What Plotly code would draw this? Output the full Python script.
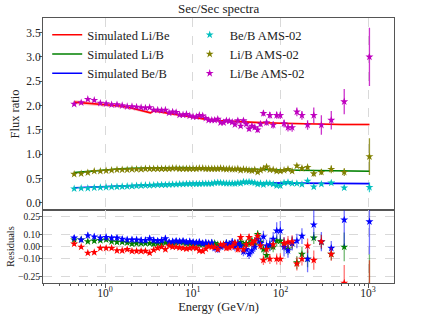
import plotly.graph_objects as go

# ---------------- data ----------------
energy = [0.445, 0.535, 0.637, 0.754, 0.885, 1.03, 1.19, 1.37, 1.57, 1.79, 2.03, 2.29, 2.58, 2.89, 3.23, 3.59,
          3.99, 4.42, 4.88, 5.38, 5.90, 6.47, 7.09, 7.76, 8.48, 9.25, 10.1, 11.0, 11.9, 13.0, 14.1, 15.2,
          16.5, 17.8, 19.3, 20.8, 22.5, 24.2, 26.1, 28.2, 30.3, 32.7, 35.2, 37.9, 40.8, 43.9, 47.3, 51.0,
          55.0, 59.3, 64.0, 69.5, 75.8, 82.7, 90.7, 99.7, 110, 122, 136, 154, 176, 204, 240, 293, 380, 534, 1035]

li_be = [2.03, 2.06, 2.13, 2.11, 2.05, 2.04, 2.02, 2.02, 2.00, 1.98, 1.98, 1.97, 1.96, 1.95, 1.96, 1.91, 1.91, 1.90,
         1.91, 1.85, 1.87, 1.86,
         1.81, 1.81, 1.82, 1.79, 1.77, 1.77, 1.80, 1.79, 1.74, 1.70, 1.70, 1.70, 1.72, 1.65, 1.65, 1.69, 1.68, 1.66,
         1.61, 1.69, 1.58, 1.69, 1.62,
         1.52, 1.58, 1.55, 1.50, 1.62, 1.84, 1.65, 1.80, 1.60, 1.80, 1.80, 1.63, 1.55, 1.55, 1.87, 1.80, 1.60, 1.80,
         1.60, 1.70, 2.08, 3.00]
li_be_err = [0.02, 0.02, 0.02, 0.02, 0.02, 0.02, 0.02, 0.02, 0.02, 0.02,
             0.02, 0.02, 0.02, 0.02, 0.02, 0.02, 0.02, 0.02, 0.02, 0.02,
             0.02, 0.02, 0.02, 0.02, 0.025, 0.025, 0.025, 0.025, 0.025, 0.025,
             0.03, 0.03, 0.03, 0.03, 0.03, 0.03, 0.035, 0.035, 0.035, 0.035,
             0.04, 0.04, 0.04, 0.045, 0.045, 0.05, 0.05, 0.05, 0.055, 0.055,
             0.06, 0.06, 0.065, 0.07, 0.07, 0.075, 0.08, 0.085, 0.09, 0.09,
             0.09, 0.10, 0.16, 0.20, 0.19, 0.26, 0.60]

li_b = [0.59, 0.60, 0.62, 0.65, 0.65, 0.66, 0.67, 0.68, 0.68, 0.68, 0.69, 0.69, 0.69, 0.70, 0.70, 0.70, 0.70, 0.70,
        0.70, 0.70, 0.71, 0.71,
        0.70, 0.70, 0.70, 0.70, 0.70, 0.70, 0.71, 0.71, 0.70, 0.70, 0.70, 0.70, 0.70, 0.71, 0.70, 0.69, 0.70, 0.69,
        0.69, 0.70, 0.67, 0.69, 0.68,
        0.67, 0.66, 0.68, 0.63, 0.67, 0.70, 0.74, 0.68, 0.68, 0.65, 0.65, 0.67, 0.69, 0.65, 0.76, 0.71, 0.73, 0.60,
        0.63, 0.69, 0.63, 0.95]
li_b_err = [0.01, 0.01, 0.01, 0.01, 0.01, 0.01, 0.01, 0.01, 0.01, 0.01,
            0.01, 0.01, 0.01, 0.01, 0.01, 0.01, 0.01, 0.01, 0.01, 0.01,
            0.01, 0.01, 0.01, 0.01, 0.01, 0.01, 0.01, 0.012, 0.012, 0.012,
            0.012, 0.012, 0.012, 0.013, 0.013, 0.013, 0.014, 0.014, 0.015, 0.015,
            0.015, 0.016, 0.016, 0.017, 0.017, 0.018, 0.018, 0.019, 0.02, 0.02,
            0.021, 0.022, 0.023, 0.024, 0.025, 0.026, 0.027, 0.028, 0.03, 0.032,
            0.04, 0.05, 0.06, 0.06, 0.08, 0.08, 0.38]

be_b = [0.29, 0.30, 0.30, 0.31, 0.315, 0.32, 0.325, 0.33, 0.335, 0.34, 0.345, 0.35, 0.355, 0.36, 0.36, 0.365, 0.37,
        0.37, 0.37, 0.375, 0.38, 0.38,
        0.385, 0.385, 0.39, 0.39, 0.39, 0.39, 0.39, 0.395, 0.395, 0.395, 0.395, 0.41, 0.415, 0.41, 0.405, 0.40, 0.40,
        0.40, 0.395, 0.41, 0.40, 0.43, 0.42,
        0.43, 0.42, 0.41, 0.385, 0.40, 0.375, 0.405, 0.40, 0.385, 0.355, 0.355, 0.41, 0.42, 0.40, 0.40, 0.38, 0.45,
        0.33, 0.385, 0.41, 0.31, 0.32]
be_b_err = [0.005, 0.005, 0.005, 0.005, 0.005, 0.005, 0.005, 0.005, 0.005, 0.005,
            0.005, 0.005, 0.005, 0.005, 0.005, 0.005, 0.005, 0.005, 0.005, 0.005,
            0.006, 0.006, 0.006, 0.006, 0.006, 0.006, 0.006, 0.007, 0.007, 0.007,
            0.007, 0.007, 0.007, 0.008, 0.008, 0.008, 0.008, 0.009, 0.009, 0.009,
            0.01, 0.01, 0.01, 0.01, 0.011, 0.011, 0.011, 0.012, 0.012, 0.012,
            0.013, 0.013, 0.014, 0.014, 0.015, 0.015, 0.016, 0.016, 0.017, 0.018,
            0.02, 0.025, 0.03, 0.03, 0.035, 0.04, 0.10]

# residuals
res_li_be = [0.025, 0.00, -0.05, -0.045, -0.01, -0.01, -0.01, -0.03, -0.03, -0.02, -0.035, -0.035, -0.035, -0.035,
             -0.05, -0.025, -0.01, 0.00, -0.02, 0.01, 0.00, 0.00,
             -0.005, -0.01, -0.015, -0.01, -0.005, -0.01, -0.03, -0.035, -0.015, 0.005, 0.0, 0.0, -0.02, 0.02, 0.02,
             -0.01, -0.005, 0.005, 0.035, -0.02, 0.08, -0.02, 0.02,
             0.08, 0.03, 0.05, 0.09, 0.01, -0.11, -0.02, -0.10, 0.02, -0.10, -0.10, 0.03, 0.04, 0.045, -0.14, -0.10,
             0.01, -0.11, 0.045, -0.06, -0.30, -0.46]
res_li_be_err = [0.015, 0.015, 0.015, 0.015, 0.015, 0.015, 0.015, 0.015, 0.015, 0.015,
                 0.015, 0.015, 0.015, 0.015, 0.015, 0.015, 0.015, 0.015, 0.015, 0.015,
                 0.015, 0.015, 0.015, 0.015, 0.015, 0.015, 0.016, 0.016, 0.017, 0.017,
                 0.018, 0.018, 0.019, 0.019, 0.02, 0.02, 0.021, 0.022, 0.023, 0.024,
                 0.025, 0.026, 0.027, 0.028, 0.029, 0.03, 0.031, 0.032, 0.034, 0.036,
                 0.04, 0.04, 0.042, 0.044, 0.046, 0.048, 0.05, 0.05, 0.052, 0.055,
                 0.055, 0.06, 0.08, 0.055, 0.055, 0.15, 0.35]

res_li_b = [0.06, 0.06, 0.045, 0.05, 0.055, 0.06, 0.045, 0.04, 0.04, 0.035, 0.025, 0.03, 0.03, 0.03, 0.03, 0.025,
            0.03, 0.03, 0.035, 0.03, 0.03, 0.035,
            0.04, 0.035, 0.03, 0.03, 0.025, 0.03, 0.02, 0.02, 0.025, 0.02, 0.03, 0.03, 0.02, 0.01, 0.02, 0.03, 0.02,
            0.025, 0.03, 0.02, 0.04, 0.02, 0.03,
            0.03, 0.05, 0.02, 0.105, 0.04, -0.02, -0.07, 0.01, 0.0, 0.05, 0.05, 0.02, -0.015, 0.03, -0.13, -0.06,
            -0.10, 0.075, 0.04, -0.06, 0.0, -0.46]
res_li_b_err = [0.015, 0.015, 0.015, 0.015, 0.015, 0.015, 0.015, 0.015, 0.015, 0.015,
                0.015, 0.015, 0.015, 0.015, 0.015, 0.015, 0.015, 0.015, 0.015, 0.015,
                0.015, 0.015, 0.015, 0.015, 0.015, 0.015, 0.016, 0.016, 0.017, 0.017,
                0.018, 0.018, 0.019, 0.019, 0.02, 0.02, 0.021, 0.022, 0.023, 0.024,
                0.025, 0.026, 0.027, 0.028, 0.029, 0.03, 0.031, 0.032, 0.034, 0.036,
                0.04, 0.04, 0.042, 0.044, 0.046, 0.048, 0.05, 0.05, 0.052, 0.055,
                0.06, 0.07, 0.05, 0.06, 0.05, 0.12, 0.40]

res_be_b = [0.075, 0.06, 0.095, 0.085, 0.075, 0.08, 0.075, 0.075, 0.065, 0.06, 0.06, 0.06, 0.055, 0.055, 0.07,
            0.055, 0.05, 0.055, 0.07, 0.04, 0.045, 0.05,
            0.045, 0.05, 0.04, 0.045, 0.04, 0.035, 0.04, 0.03, 0.035, 0.03, 0.035, -0.01, -0.02, 0.0, 0.01, 0.03,
            0.02, 0.04, 0.0, 0.03, 0.01, -0.04, -0.02,
            -0.06, -0.03, 0.0, 0.065, 0.03, 0.085, 0.01, 0.02, 0.065, 0.135, 0.135, 0.0, -0.03, 0.03, 0.05, 0.09,
            -0.10, 0.185, 0.045, -0.01, 0.225, 0.21]
res_be_b_err = [0.025, 0.025, 0.025, 0.025, 0.025, 0.025, 0.025, 0.025, 0.025, 0.025,
                0.025, 0.025, 0.025, 0.025, 0.025, 0.025, 0.025, 0.025, 0.025, 0.025,
                0.025, 0.025, 0.025, 0.025, 0.025, 0.025, 0.026, 0.026, 0.027, 0.027,
                0.028, 0.028, 0.029, 0.029, 0.03, 0.03, 0.031, 0.032, 0.033, 0.034,
                0.035, 0.036, 0.037, 0.038, 0.039, 0.04, 0.041, 0.042, 0.044, 0.046,
                0.05, 0.05, 0.055, 0.06, 0.07, 0.08, 0.08, 0.06, 0.06, 0.06,
                0.065, 0.11, 0.125, 0.08, 0.06, 0.22, 0.27]

# simulated model curves
model_energy = [0.445, 0.6, 0.8, 1.0, 1.5, 2.0, 2.5, 3.0, 3.3, 3.6, 5.0, 7.0, 10, 15, 20, 30, 50, 100, 200, 500, 1035]
model_li_be = [2.07, 2.05, 2.03, 2.02, 1.99, 1.95, 1.91, 1.87, 1.85, 1.89, 1.85, 1.80, 1.76, 1.71, 1.69, 1.67,
               1.655, 1.635, 1.62, 1.61, 1.61]
model_li_be_unc = [0.045, 0.045, 0.04, 0.04, 0.035, 0.035, 0.03, 0.03, 0.03, 0.03, 0.03, 0.025, 0.025, 0.025,
                   0.02, 0.02, 0.02, 0.02, 0.02, 0.02, 0.02]
model_li_b = [0.62, 0.64, 0.665, 0.68, 0.70, 0.71, 0.715, 0.72, 0.72, 0.72, 0.725, 0.725, 0.72, 0.715, 0.71, 0.70,
              0.69, 0.675, 0.665, 0.655, 0.65]
model_li_b_unc = [0.012] * 21
model_be_b = [0.31, 0.32, 0.33, 0.335, 0.35, 0.36, 0.365, 0.37, 0.372, 0.375, 0.38, 0.39, 0.40, 0.405, 0.41, 0.41,
              0.41, 0.405, 0.40, 0.40, 0.395]
model_be_b_unc = [0.008] * 21

x_ticks = [1, 10, 100, 1000]
x_tick_text = ["10<sup>0</sup>", "10<sup>1</sup>", "10<sup>2</sup>", "10<sup>3</sup>"]
y_ticks = [0.0, 0.5, 1.0, 1.5, 2.0, 2.5, 3.0, 3.5]
y_tick_text = ["0.0", "0.5", "1.0", "1.5", "2.0", "2.5", "3.0", "3.5"]
res_ticks = [-0.25, -0.10, 0.0, 0.10, 0.25]
res_tick_text = ["\u22120.25", "\u22120.10", "0.00", "0.10", "0.25"]

# ---------------- figure ----------------
FONT = "Liberation Serif"
fig = go.Figure()


def band(x, y, unc, color, axes):
    up = [a + b for a, b in zip(y, unc)]
    lo = [a - b for a, b in zip(y, unc)]
    fig.add_trace(go.Scatter(x=x, y=up, mode="lines", line=dict(width=0), showlegend=False,
                             hoverinfo="skip", xaxis=axes[0], yaxis=axes[1]))
    fig.add_trace(go.Scatter(x=x, y=lo, mode="lines", line=dict(width=0), fill="tonexty",
                             fillcolor=color, showlegend=False, hoverinfo="skip",
                             xaxis=axes[0], yaxis=axes[1]))


band(model_energy, model_li_be, model_li_be_unc, "rgba(255,0,0,0.22)", ("x", "y"))
band(model_energy, model_li_b, model_li_b_unc, "rgba(0,128,0,0.25)", ("x", "y"))
band(model_energy, model_be_b, model_be_b_unc, "rgba(0,0,255,0.25)", ("x", "y"))

for name, yv, col in [("Simulated Li/Be", model_li_be, "#ff0000"),
                      ("Simulated Li/B", model_li_b, "#008000"),
                      ("Simulated Be/B", model_be_b, "#0000ff")]:
    fig.add_trace(go.Scatter(x=model_energy, y=yv, mode="lines", name=name,
                             line=dict(color=col, width=1.6), legend="legend",
                             xaxis="x", yaxis="y"))

for name, yv, ev, col, ecol in [("Be/B AMS-02", be_b, be_b_err, "#00bfbf", "rgba(0,191,191,0.8)"),
                                ("Li/B AMS-02", li_b, li_b_err, "#808000", "rgba(128,128,0,0.8)"),
                                ("Li/Be AMS-02", li_be, li_be_err, "#bf00bf", "rgba(191,0,191,0.8)")]:
    fig.add_trace(go.Scatter(x=energy, y=yv, mode="markers", name=name,
                             marker=dict(symbol="star", size=6, color=col, line=dict(width=0)),
                             error_y=dict(type="data", array=ev, color=ecol, thickness=1.3, width=0),
                             legend="legend2", xaxis="x", yaxis="y"))

for yv, ev, col, ecol in [(res_li_b, res_li_b_err, "#008000", "rgba(0,128,0,0.55)"),
                          (res_be_b, res_be_b_err, "#0000ff", "rgba(0,0,255,0.55)"),
                          (res_li_be, res_li_be_err, "#ff0000", "rgba(255,0,0,0.55)")]:
    fig.add_trace(go.Scatter(x=energy, y=yv, mode="markers", showlegend=False,
                             marker=dict(symbol="star", size=6, color=col, line=dict(width=0)),
                             error_y=dict(type="data", array=ev, color=ecol, thickness=1.3, width=0),
                             xaxis="x2", yaxis="y2", cliponaxis=True))

minor_vals = [m * 10 ** d for d in range(-1, 4) for m in range(2, 10)]
xr = [-0.707, 3.295]
axis_common = dict(showline=True, linecolor="#555", linewidth=1, mirror=True, zeroline=False, automargin=False)
grid_style = dict(gridcolor="#d9d9d9", griddash="dash", gridwidth=1)

fig.update_layout(
    width=438, height=314,
    margin=dict(l=43, r=44, t=18, b=31, autoexpand=False),
    paper_bgcolor="white", plot_bgcolor="white",
    font=dict(family=FONT, size=11.5, color="#222"),
    annotations=[dict(text="Sec/Sec spectra", x=0.5, xref="paper", y=1.0, yref="paper",
                      xanchor="center", yanchor="bottom", yshift=0, showarrow=False,
                      font=dict(family=FONT, size=13, color="#222"))],
    xaxis=dict(type="log", range=xr, domain=[0, 1], anchor="y", tickvals=x_ticks, ticktext=x_tick_text,
               showticklabels=False, ticks="", showgrid=True, **grid_style, **axis_common),
    yaxis=dict(domain=[0.275, 1], range=[-0.15, 3.8], tickvals=y_ticks, ticktext=y_tick_text,
               ticks="outside", ticklen=3, tickcolor="#555", showgrid=False, ticklabelstandoff=-4,
               title=dict(text="Flux ratio", font=dict(size=12.5), standoff=3), **axis_common),
    xaxis2=dict(type="log", range=xr, domain=[0, 1], anchor="y2", matches="x", tickvals=x_ticks,
                ticktext=x_tick_text, ticks="outside", ticklen=3.5, tickcolor="#555", ticklabelstandoff=-4,
                minor=dict(tickvals=minor_vals, ticks="outside", ticklen=2, tickcolor="#555", showgrid=False),
                showgrid=True, **grid_style,
                title=dict(text="Energy (GeV/n)", font=dict(size=12.5), standoff=6), **axis_common),
    yaxis2=dict(domain=[0, 0.275], range=[-0.30, 0.306], tickvals=res_ticks, ticktext=res_tick_text,
                ticks="outside", ticklen=3, tickcolor="#555", showgrid=True, **grid_style, ticklabelstandoff=-3,
                tickfont=dict(size=9.5),
                title=dict(text="Residuals", font=dict(size=10.5), standoff=1), **axis_common),
    legend=dict(x=0.012, y=0.992, xanchor="left", yanchor="top", bgcolor="rgba(0,0,0,0)",
                font=dict(family=FONT, size=12.5), itemwidth=30, tracegroupgap=0, traceorder="normal"),
    legend2=dict(x=0.418, y=0.992, xanchor="left", yanchor="top", bgcolor="rgba(0,0,0,0)",
                 font=dict(family=FONT, size=12.5), itemwidth=30, tracegroupgap=0, traceorder="normal"),
)

fig.write_html("out.html", config={"displayModeBar": False},
               post_script="document.body.style.margin='0';")
